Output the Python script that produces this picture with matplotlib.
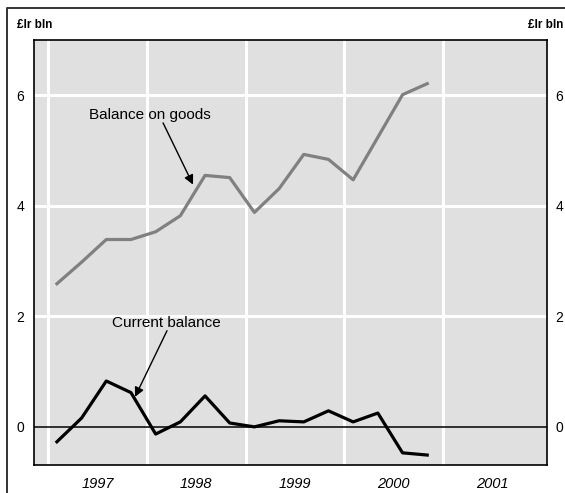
import matplotlib
matplotlib.use("Agg")
import matplotlib.pyplot as plt
from matplotlib.lines import Line2D

plt.rcParams['font.family'] = ['Liberation Sans', 'DejaVu Sans']

# quarterly data, 1997Q1 .. 2000Q4 (IR£ bln)
quarters = [1997 + i * 0.25 + 0.09 for i in range(16)]
goods = [2.59, 2.98, 3.39, 3.39, 3.53, 3.82, 4.55, 4.51,
         3.88, 4.31, 4.93, 4.84, 4.47, 5.24, 6.01, 6.21]
current = [-0.27, 0.16, 0.83, 0.62, -0.13, 0.09, 0.56, 0.07,
           0.00, 0.11, 0.09, 0.29, 0.09, 0.25, -0.47, -0.51]
years = [1997, 1998, 1999, 2000, 2001]
yticks = [0, 2, 4, 6]

fig = plt.figure(figsize=(5.65, 4.93), dpi=100)
ax = fig.add_axes([34/565, 1 - 465/493, (547-34)/565, (465-40)/493])
ax.set_facecolor('#e0e0e0')

# white grid
for y in years:
    ax.axvline(y, color='white', lw=2.2, zorder=1)
for v in yticks[1:]:
    ax.axhline(v, color='white', lw=2.2, zorder=1)
ax.axhline(0, color='black', lw=1.1, zorder=2)

ax.plot(quarters, goods, color='#808080', lw=2.3, zorder=3)
ax.plot(quarters, current, color='black', lw=2.3, zorder=3)

ax.set_xlim(1996.858, 2002.053)
ax.set_ylim(-0.69, 7.0)

ax.set_xticks([y + 0.5 for y in years])
ax.set_xticklabels([str(y) for y in years], fontstyle='italic', fontsize=10.5)
ax.set_yticks(yticks)
ax.set_yticklabels([str(v) for v in yticks], fontsize=10)
ax.tick_params(axis='both', length=0)
ax.tick_params(axis='x', pad=9)
ax.tick_params(axis='y', pad=7)
for s in ax.spines.values():
    s.set_linewidth(1.2)
    s.set_color('black')

# right-hand scale
ax2 = ax.twinx()
ax2.set_ylim(ax.get_ylim())
ax2.set_yticks(yticks)
ax2.set_yticklabels([str(v) for v in yticks], fontsize=10)
ax2.tick_params(axis='y', length=0, pad=6)
for s in ax2.spines.values():
    s.set_visible(False)

# labels with arrows
arrow = dict(arrowstyle='-|>', color='black', lw=1.0, mutation_scale=14,
             shrinkA=0, shrinkB=0)
ax.text(1998.028, 5.64, 'Balance on goods', fontsize=11, ha='center', va='center')
ax.annotate('', xy=(1998.468, 4.384), xytext=(1998.165, 5.5), arrowprops=arrow)
ax.text(1998.2, 1.88, 'Current balance', fontsize=11, ha='center', va='center')
ax.annotate('', xy=(1997.881, 0.543), xytext=(1998.205, 1.74), arrowprops=arrow)

fig.text(17/565, 1 - 25/493, '£lr bln', fontsize=8.5, fontweight='bold',
         ha='left', va='center')
fig.text(563/565, 1 - 25/493, '£lr bln', fontsize=8.5, fontweight='bold',
         ha='right', va='center')

# outer frame (top and left edges visible)
fig.add_artist(Line2D([7/565, 7/565, 1.0], [0.0, 1 - 8/493, 1 - 8/493],
                      transform=fig.transFigure, color='#333333', lw=1.4))

fig.savefig('out.png', dpi=100)
